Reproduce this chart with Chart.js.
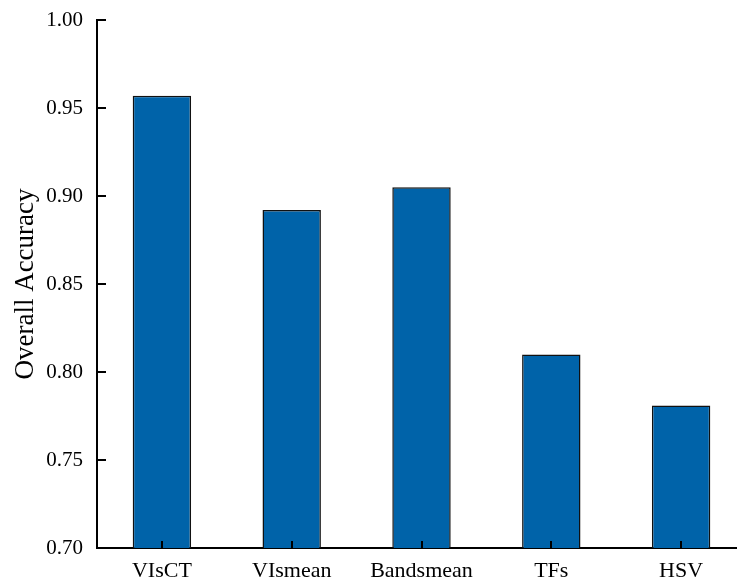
<!DOCTYPE html>
<html>
<head>
<meta charset="utf-8">
<script src="https://cdn.jsdelivr.net/npm/chart.js@4/dist/chart.umd.min.js"></script>
<style>
  html, body { margin: 0; padding: 0; background: #fff; overflow: hidden; }
  #wrap { position: relative; width: 760px; height: 579px; }
</style>
</head>
<body>
<div id="wrap"><canvas id="c"></canvas></div>
<script>
// Classification accuracy per feature set
const categories = ['VIsCT', 'VIsmean', 'Bandsmean', 'TFs', 'HSV'];
const accuracy = [0.957, 0.892, 0.905, 0.810, 0.781];
const yTicks = [0.70, 0.75, 0.80, 0.85, 0.90, 0.95, 1.00];

const FONT = '"Liberation Serif", "Times New Roman", serif';

// Short inward tick marks drawn on top of the bars
const innerTicks = {
  id: 'innerTicks',
  afterDatasetsDraw(chart) {
    const { ctx, chartArea, scales } = chart;
    ctx.save();
    ctx.strokeStyle = '#000';
    ctx.lineWidth = 2;
    ctx.beginPath();
    yTicks.forEach(v => {
      const y = Math.round(scales.y.getPixelForValue(v));
      ctx.moveTo(chartArea.left, y);
      ctx.lineTo(chartArea.left + 9, y);
    });
    categories.forEach((c, i) => {
      const x = Math.round(scales.x.getPixelForValue(i));
      ctx.moveTo(x, chartArea.bottom);
      ctx.lineTo(x, chartArea.bottom - 7);
    });
    ctx.stroke();
    ctx.restore();
  }
};

function noOverflow(s) {
  s.paddingTop = 0; s.paddingBottom = 0; s.paddingLeft = 0; s.paddingRight = 0;
}

new Chart(document.getElementById('c'), {
  type: 'bar',
  data: {
    labels: categories,
    datasets: [{
      data: accuracy,
      backgroundColor: '#0063A9',
      borderColor: '#111',
      borderWidth: 1.5,
      borderSkipped: 'bottom',
      categoryPercentage: 1,
      barPercentage: 0.45
    }]
  },
  options: {
    responsive: true,
    maintainAspectRatio: false,
    animation: false,
    layout: { padding: { top: 20, right: 14, left: 0, bottom: 0 } },
    plugins: { legend: { display: false }, tooltip: { enabled: false } },
    scales: {
      x: {
        grid: { display: false, drawTicks: false },
        border: { display: true, color: '#000', width: 2 },
        ticks: { color: '#000', padding: 10, font: { family: FONT, size: 22 } },
        afterFit(s) { s.height = 31; noOverflow(s); }
      },
      y: {
        min: 0.70,
        max: 1.00,
        grid: { display: false, drawTicks: false },
        border: { display: true, color: '#000', width: 2 },
        afterBuildTicks(s) { s.ticks = yTicks.map(v => ({ value: v })); },
        ticks: {
          color: '#000',
          padding: 14,
          font: { family: FONT, size: 21 },
          callback: v => Number(v).toFixed(2)
        },
        title: {
          display: true,
          text: 'Overall Accuracy',
          color: '#000',
          font: { family: FONT, size: 27 },
          padding: { top: 10, bottom: 0 }
        },
        afterFit(s) { s.width = 97; noOverflow(s); }
      }
    }
  },
  plugins: [innerTicks]
});
</script>
</body>
</html>
